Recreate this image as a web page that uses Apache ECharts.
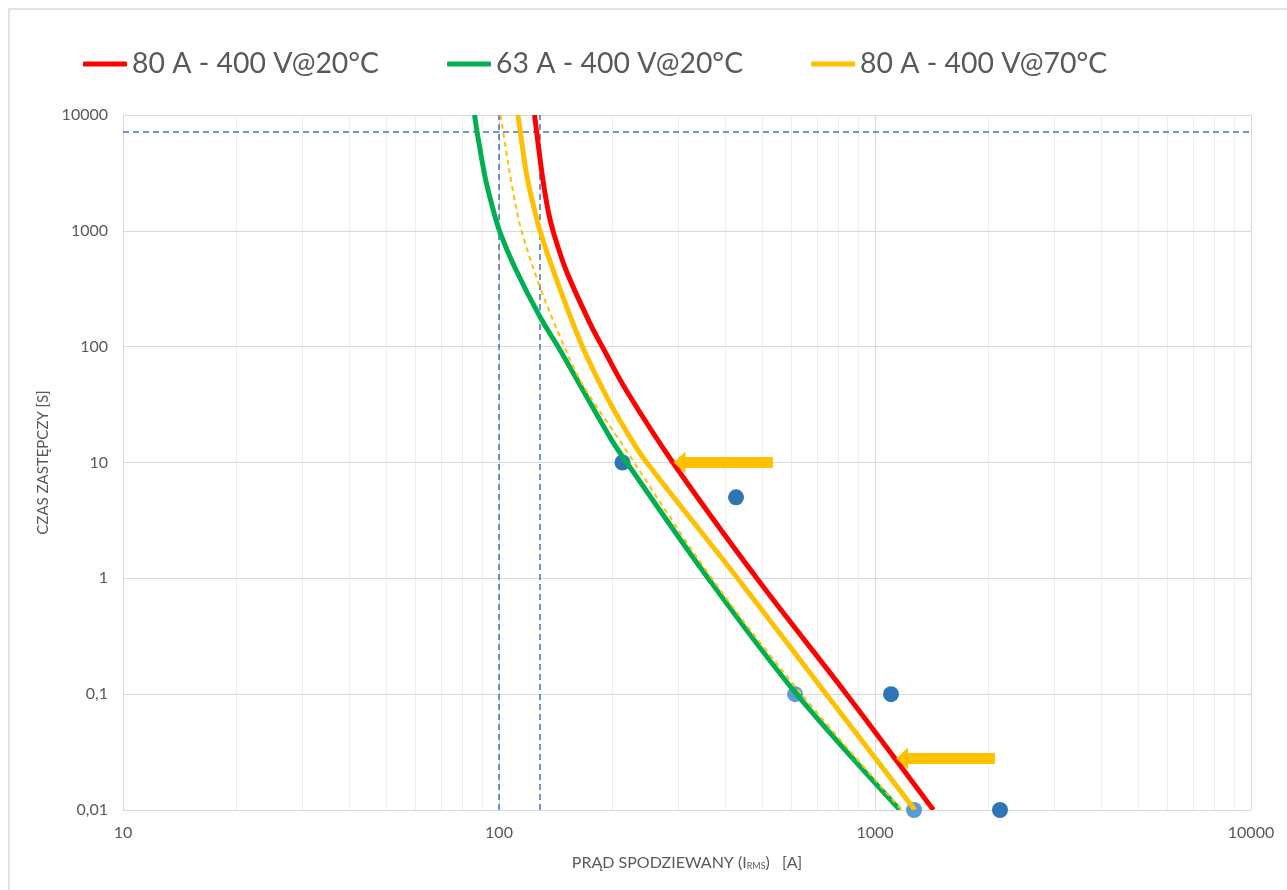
<!DOCTYPE html>
<html><head><meta charset="utf-8">
<script src="https://cdn.jsdelivr.net/npm/echarts@6/dist/echarts.min.js"></script>
<style>html,body{margin:0;padding:0;background:#fff}#c{width:1287px;height:890px}</style>
</head><body><div id="c"></div>
<script>
// ---- data ----
const seriesNames = ['80 A - 400 V@20°C', '63 A - 400 V@20°C', '80 A - 400 V@70°C'];
// [current A, time s]
const red80at20 = [[124.3,10000],[125.9,7200],[130.5,2930],[135,1510],[139.2,1000],[150.7,459],[174.6,159],[190.3,93.5],[217.7,42.2],[290,10],[485,1],[840,0.1],[1430,0.01]];
const green63at20 = [[86.1,10000],[87.4,7200],[91.8,2930],[95.5,1728],[100.3,1000],[111,459],[128.5,181],[145.3,93.5],[171.1,36.9],[199.4,15.6],[218.6,10],[360,1],[619,0.1],[1165,0.01]];
const yellow80at70 = [[112.3,10000],[113.9,7200],[118.7,2930],[124.3,1510],[128.5,1000],[141.3,402],[165.2,107],[193.4,36.9],[225.4,15.6],[247,10],[431,1],[742,0.1],[1277,0.01]];
const yellowDashed = [[101,10000],[103.7,5692],[109.2,2109],[114.8,1000],[128.5,329],[145.3,122],[166.2,48.2],[209,15.6],[368,1],[638,0.1],[1178,0.01]];
const pointsDark = [[213,10],[427,5],[1103,0.1],[2150,0.01]];
const pointsLight = [[613,0.1],[1270,0.01]];
const refCurrents = [100, 128];
const refTime = 7200;
const arrows = [ { from: [535, 10], to: [302, 10] }, { from: [2084, 0.0279], to: [1180, 0.0279] } ];
const xMinorGrid = [20,30,40,50,60,70,80,90,200,300,400,500,600,700,800,900,2000,3000,4000,5000,6000,7000,8000,9000];
const xAxisRange = [10, 10000];
const yAxisRange = [0.01, 10000];
const xAxisTitle = '{m|PRĄD SPODZIEWANY (I}{s|RMS}{m|)   [A]}';
const yAxisTitle = 'CZAS ZASTĘPCZY [S]';

// ---- chart ----
const FONT = 'Lato, "Open Sans", sans-serif';
const fmt = v => String(Number(Number(v).toPrecision(6))).replace('.', ',');
const chart = echarts.init(document.getElementById('c'), null, { renderer: 'canvas' });
// smooth curve drawn through the axes' scales (api.coord) as one polyline
const curve = (name, data, color, width, dash, z) => ({
  name, type: 'custom', data, silent: true, z: z || 3, clip: true,
  itemStyle: { color },
  renderItem: (params, api) => {
    if (params.dataIndex !== 0) return null;
    const pts = data.map(p => api.coord(p));
    return { type: 'polyline', silent: true,
      shape: { points: pts, smooth: 0.35 },
      style: { stroke: color, lineWidth: width, fill: null, lineDash: dash || null, lineCap: 'butt', lineJoin: 'round' } };
  }
});
chart.setOption({
  animation: false,
  backgroundColor: '#ffffff',
  textStyle: { fontFamily: FONT },
  graphic: [{ type: 'rect', shape: { x: 9, y: 9, width: 1300, height: 900 }, style: { fill: 'none', stroke: '#d9d9d9', lineWidth: 1.5 }, silent: true, z: -10 }],
  legend: {
    data: seriesNames, left: 78, top: 45, itemWidth: 44, itemHeight: 5, itemGap: 68,
    icon: 'roundRect',
    textStyle: { fontSize: 28.4, color: '#595959', fontFamily: FONT }
  },
  grid: { left: 123, right: 36, top: 115, bottom: 80, containLabel: false },
  xAxis: {
    type: 'log', logBase: 10, min: xAxisRange[0], max: xAxisRange[1],
    name: xAxisTitle, nameLocation: 'middle', nameGap: 45,
    nameTextStyle: { rich: { m: { fontSize: 16, color: '#595959', fontFamily: FONT }, s: { fontSize: 9, color: '#595959', fontFamily: FONT, padding: [7, 0, 0, 0] } } },
    axisLine: { show: true, lineStyle: { color: '#d9d9d9', width: 1 } },
    axisTick: { show: false },
    axisLabel: { fontSize: 16, color: '#595959', margin: 15, fontFamily: FONT, formatter: fmt },
    splitLine: { show: true, lineStyle: { color: '#d9d9d9', width: 1 } }
  },
  yAxis: {
    type: 'log', logBase: 10, min: yAxisRange[0], max: yAxisRange[1],
    name: yAxisTitle, nameLocation: 'middle', nameGap: 69, nameRotate: 90,
    nameTextStyle: { fontSize: 15, color: '#595959', fontFamily: FONT },
    axisLine: { show: true, lineStyle: { color: '#d9d9d9', width: 1 } },
    axisTick: { show: false },
    axisLabel: { fontSize: 16, color: '#595959', margin: 15, fontFamily: FONT, formatter: fmt },
    splitLine: { show: true, lineStyle: { color: '#d9d9d9', width: 1 } }
  },
  series: [
    { name: 'minor', type: 'line', data: [], silent: true, z: -1,
      markLine: { z: -1, silent: true, symbol: 'none', label: { show: false }, animation: false,
        lineStyle: { color: '#ededed', width: 1, type: 'solid' },
        data: xMinorGrid.map(v => ({ xAxis: v })) } },
    { name: 'ref', type: 'line', data: [], silent: true, z: 1,
      markLine: { z: 1, silent: true, symbol: 'none', label: { show: false }, animation: false,
        lineStyle: { color: '#4472c4', width: 1.5, type: [6, 4] },
        data: refCurrents.map(v => ({ xAxis: v })).concat([{ yAxis: refTime }]) } },
    { name: 'ptsLight', type: 'scatter', data: pointsLight, symbolSize: 16, itemStyle: { color: '#5b9bd5', opacity: 1 }, silent: true, z: 2 },
    { name: 'ptsDark', type: 'scatter', data: pointsDark, symbolSize: 16, itemStyle: { color: '#2e75b6', opacity: 1 }, silent: true, z: 2 },
    curve(seriesNames[0], red80at20, '#ff0000', 5),
    curve(seriesNames[1], green63at20, '#00b050', 5),
    curve(seriesNames[2], yellow80at70, '#ffc000', 5),
    curve('dashed', yellowDashed, '#ffc000', 2, [5, 4]),
    { name: 'arrows', type: 'line', data: [], silent: true, z: 6,
      markLine: { z: 6, silent: true, symbol: ['none', 'triangle'], symbolSize: [22, 12], label: { show: false }, animation: false,
        lineStyle: { color: '#ffc000', width: 11, type: 'solid', cap: 'butt' },
        itemStyle: { color: '#ffc000' },
        data: arrows.map(a => [{ coord: a.from }, { coord: a.to }]) } }
  ]
});
</script></body></html>
